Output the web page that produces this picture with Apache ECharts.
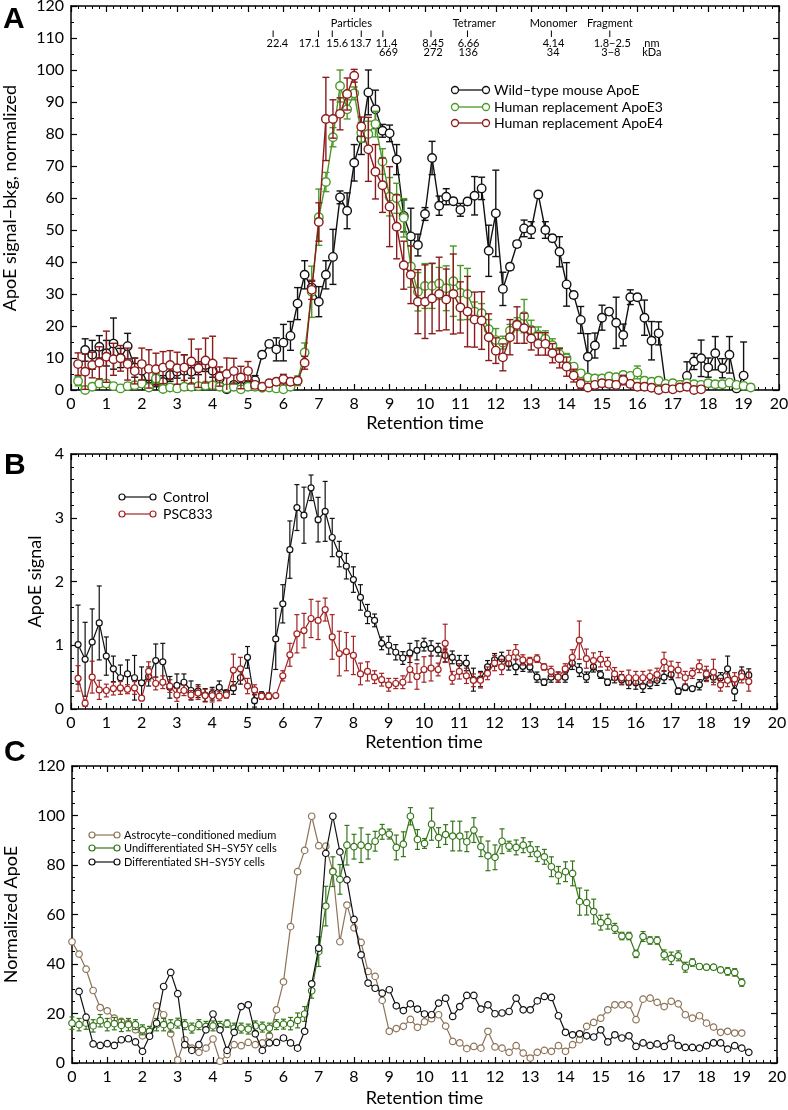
<!DOCTYPE html>
<html>
<head>
<meta charset="utf-8">
<script src="https://cdn.jsdelivr.net/npm/echarts@6/dist/echarts.min.js"></script>
<style>
html,body{margin:0;padding:0;background:#fff;}
#chart{width:788px;height:1110px;}
</style>
</head>
<body>
<div id="chart"></div>
<script>
// ---------- DATA ----------
const times = [
 0,0.2,0.4,0.6,0.8,1,1.2,1.4,1.6,1.8,
 2,2.2,2.4,2.6,2.8,3,3.2,3.4,3.6,3.8,
 4,4.2,4.4,4.6,4.8,5,5.2,5.4,5.6,5.8,
 6,6.2,6.4,6.6,6.8,7,7.2,7.4,7.6,7.8,
 8,8.2,8.4,8.6,8.8,9,9.2,9.4,9.6,9.8,
 10,10.2,10.4,10.6,10.8,11,11.2,11.4,11.6,11.8,
 12,12.2,12.4,12.6,12.8,13,13.2,13.4,13.6,13.8,
 14,14.2,14.4,14.6,14.8,15,15.2,15.4,15.6,15.8,
 16,16.2,16.4,16.6,16.8,17,17.2,17.4,17.6,17.8,
 18,18.2,18.4,18.6,18.8,19,19.2];

const xTicks = [0,1,2,3,4,5,6,7,8,9,10,11,12,13,14,15,16,17,18,19,20];

// Panel A
const aWildType = [
 null,null,12.5,11,13.5,11.5,14.5,10,13.7,7,
 6,1,3,2.5,4.7,5.7,6,5.7,6.8,7.8,
 6,3.6,0.2,1.6,1,1.5,3,11,14.4,12.7,
 14.8,16.9,27,36,32,27.6,36,41.6,60.2,56,
 71,78.6,93,87.7,81,80.2,72,54.4,48,45.3,
 55,72.5,57.6,60.4,59,56.3,58.9,60.7,63,43.5,
 55.2,31.6,38.5,45.6,50.5,50,61.1,50,47.4,43.2,
 33,29.7,21.9,10.4,13.9,22.6,24.5,21,17.2,29,
 29,22.6,15.4,17.7,1,0.5,1.5,4.4,8.9,9.9,
 7,11.5,6.8,11,0.5,4.5,null];
const aWildTypeErr = [
 null,null,3.5,4.5,3.5,4,8,3,4,3,
 3,2,2,2,2,2,5,2,2,2,
 2,2,1,1,1,1,1.5,1,1,3.6,
 5.7,4.5,5,4.4,2,4.7,4.4,8.6,2,5.6,
 5.7,5,7,6,2,2.6,4.7,5,8.8,3.4,
 2,5.2,3,2.5,1,2,1,6,3.5,8,
 13.5,5.2,1,1,2.6,2.6,1,2.6,1,4.7,
 6.8,1,4.2,7.2,3.9,3.9,1,8,3.4,2.3,
 1,5.5,6,3.6,1,1,1,4.4,2.5,5.7,
 3,5.2,3,5.7,1,10.5,null];
const aApoE3 = [
 null,2.8,0,1,2,2,1.2,0.5,1.2,1.5,
 2,0.8,3.6,0.3,0.8,0.5,1,1,1.2,1.4,
 1.5,1,0.5,1,0.2,1,1,0.7,0.8,0.5,
 0.2,1,2.9,11.7,30.7,54,65,79,95,87.7,
 92.7,80.4,80,83.1,71.4,60.4,59.9,53.8,38.6,30.7,
 32.5,32.5,33.3,31.8,34,30.4,30,24.5,24,19,
 15.6,14.8,18.5,20.6,23.1,18.8,17.2,16,14,11.2,
 9.9,7.3,5.2,3.9,3.6,3.6,4.2,4,4.7,4.4,
 5.5,2.9,2.6,2.9,1.9,2.1,1.6,2.1,1.8,1.6,
 2.1,1.8,1.8,2.3,1.6,1.3,0.8];
const aApoE3Err = [
 null,1.5,1,1,1,1,1,1,1,1,
 1,1,1.5,1,1,1,1,1,1,1,
 1,1,1,1,1,1,1,1,1,1,
 1,1,1.5,3,8,8.8,3,3,5,3,
 2,3,4,4,4,6,4.7,6,6.5,6,
 7,7,5,7,11,8.5,8,3,3,3,
 3.6,2,2,2,5.2,3,2.5,2.5,2,2,
 1.5,1,1,1,1,1,1,1,1,1,
 2,1,1,1,1,1,1,1,1,1,
 1,1,1,1,1,1,1];
const aApoE4 = [
 null,8.1,5.7,7.8,8.5,10.4,9.6,9.9,8.1,5.9,
 8.1,6.6,6.5,7,7.8,6.8,7,8.9,6.8,9.2,
 8.3,4.2,5,5.9,3.9,5.9,1.6,1,2.1,2.6,
 3.4,2.6,2.9,8.5,31.3,52.5,84.7,84.7,86.3,92.5,
 98.2,82.3,75.2,68.2,64,57.3,51,39,36,27.6,
 27.6,28.6,30,28.3,30,25.8,24.5,22,21.7,16.5,
 12.3,10.2,16.5,20.3,19.3,16.1,14.4,14.4,11.5,9.9,
 7.3,4.5,1.9,0.8,1.6,2.1,1.9,1.6,3.1,1.9,
 1,1,0.7,0,0.5,0.2,0.8,1,0,0.2,
 null,null,null,null,null,null,null];
const aApoE4Err = [
 null,3.5,5.5,4,5,8,5,4,5,4,
 5,6,5,5,4.5,5,4,7,6,7,
 8.5,3,5,4,3.5,3,1,1,1,1,
 1.5,1,1,2,3,6,13,6,5,5,
 2,3,10,8.5,8.5,12.5,10,7.5,9,10,
 11.5,11,11.5,9.5,12.5,8,11,8.6,9,7.3,
 4,4.2,5.5,5.7,4.7,3.6,3.5,3.5,3,3,
 3,2,1.5,1,1,1,1,1,1.5,1,
 1,1,1,1,1,1,1,1,1,1,
 null,null,null,null,null,null,null];

// Panel B
const bControl = [
 null,1.01,0.78,1.05,1.35,0.83,0.63,0.49,0.55,0.49,
 0.41,0.51,0.76,0.74,0.34,0.37,0.42,0.29,0.28,0.22,
 0.24,0.34,0.25,0.33,0.49,0.81,0.13,0.22,0.2,1.1,
 1.65,2.5,3.16,3.04,3.47,2.97,3.1,2.69,2.43,2.24,
 2.03,1.75,1.49,1.39,1.03,1.0,0.89,0.8,0.88,0.92,
 1.01,0.95,0.93,0.84,0.81,0.72,0.72,0.46,0.47,0.66,
 0.77,0.79,0.71,0.66,0.67,0.66,0.5,0.42,0.5,0.5,
 0.5,0.72,0.61,0.5,0.66,0.54,0.42,0.49,0.46,0.42,
 0.41,0.36,0.4,0.45,0.5,0.54,0.28,0.34,0.32,0.38,
 0.53,0.5,0.49,0.63,0.28,0.56,0.53];
const bControlErr = [
 null,0.62,0.58,0.52,0.58,0.3,0.2,0.2,0.22,0.35,
 0.25,0.15,0.26,0.29,0.17,0.18,0.13,0.15,0.1,0.1,
 0.1,0.1,0.05,0.1,0.1,0.17,0.1,0.05,0.05,0.48,
 0.3,0.45,0.36,0.44,0.2,0.35,0.47,0.3,0.2,0.2,
 0.2,0.2,0.15,0.1,0.1,0.14,0.12,0.1,0.15,0.15,
 0.1,0.12,0.1,0.1,0.1,0.12,0.12,0.18,0.12,0.1,
 0.1,0.1,0.1,0.12,0.08,0.08,0.08,0.05,0.08,0.08,
 0.08,0.1,0.1,0.08,0.08,0.06,0.05,0.08,0.08,0.1,
 0.1,0.1,0.08,0.08,0.1,0.08,0.05,0.05,0.03,0.08,
 0.08,0.08,0.08,0.2,0.15,0.1,0.1];
const bPSC833 = [
 null,0.48,0.09,0.5,0.3,0.29,0.32,0.33,0.31,0.33,
 0.17,0.59,0.4,0.42,0.36,0.22,0.29,0.22,0.25,0.21,
 0.21,0.2,0.22,0.61,0.63,0.36,0.3,0.2,0.2,0.21,
 0.52,0.85,1.18,1.23,1.42,1.39,1.56,1.13,0.87,0.9,
 0.84,0.55,0.59,0.5,0.46,0.38,0.4,0.42,0.62,0.51,
 0.62,0.64,0.62,1.03,0.49,0.59,0.52,0.45,0.45,0.56,
 0.72,0.66,0.8,0.89,0.77,0.75,0.79,0.66,0.59,0.5,
 0.63,0.81,1.08,0.79,0.76,0.78,0.71,0.55,0.49,0.49,
 0.49,0.49,0.51,0.54,0.74,0.63,0.61,0.49,0.56,0.67,
 0.55,0.58,0.38,0.45,0.47,0.51,0.43];
const bPSC833Err = [
 null,0.2,0.05,0.25,0.15,0.1,0.1,0.1,0.07,0.1,
 0.03,0.15,0.1,0.1,0.1,0.1,0.08,0.07,0.1,0.1,
 0.1,0.07,0.05,0.25,0.18,0.12,0.08,0.05,0.05,0.03,
 0.08,0.18,0.3,0.27,0.3,0.3,0.18,0.35,0.35,0.3,
 0.3,0.17,0.15,0.1,0.1,0.1,0.08,0.1,0.2,0.2,
 0.2,0.2,0.1,0.3,0.1,0.12,0.12,0.1,0.12,0.1,
 0.12,0.12,0.12,0.12,0.08,0.06,0.06,0.05,0.08,0.08,
 0.08,0.12,0.3,0.15,0.12,0.12,0.1,0.1,0.1,0.12,
 0.1,0.1,0.1,0.1,0.15,0.12,0.12,0.1,0.08,0.1,
 0.12,0.2,0.1,0.1,0.1,0.1,0.15];

// Panel C
const cAstrocyte = [
 49,44,37.9,29.3,22.4,21.1,18.1,16.8,16.1,13.4,
 11,12.8,23.1,19.5,11.8,1.3,9.4,6,4.3,6,
 9.7,0.7,3.4,7.4,7,8.3,7.4,8.1,11,21.5,
 32.8,55.1,77.3,85.9,99.7,87.8,87.6,77.5,49,63.8,
 54.6,48.7,37,35,25.3,12.8,13.9,14.8,17.6,14.4,
 16.6,17.9,19.5,14.9,8.7,8.1,5.8,6.7,6,12.8,
 6.5,6,4.3,7,4,2,4.3,5.1,4.7,7,
 4.7,7.4,9.4,14.8,16.4,18.1,21.5,23.5,23.5,23.5,
 17.5,25.8,26.2,24.5,22.8,24.9,23.9,19.5,18.1,19.1,
 16.1,14.5,12.4,12.8,12.1,12.1,null];
const cUndiff = [
 16.1,15.5,16.1,15,17.1,15.5,15.9,15.2,15.5,15.5,
 13.4,12.8,15.5,15.5,15,16.1,15.5,14.1,15.5,14.8,
 15,14.8,15.9,14.1,14.1,13.7,15,14.5,14.1,15.5,
 15.7,15.9,17.2,19.8,29.2,45,63.4,77.3,74.2,88,
 87.4,88,87.4,89.6,93.4,92.5,87.1,88.4,99.7,90.3,
 88.7,96.5,91.1,92.3,91.7,91.7,89.4,94.1,87.4,83.7,
 83.1,89.6,87.6,87.1,88,86.4,84.4,83.3,79.3,75.9,
 77.3,76.6,65.2,64.8,61.2,56.7,57.1,54.4,51.3,51.3,
 44.1,51.1,49.5,49.5,43.7,42.3,43.3,38.7,40.6,39,
 38.7,38.7,37.6,37,36.6,32.5,null];
const cUndiffErr = [
 2.5,2.5,2.5,2.5,2.5,2.5,2.5,2.5,2.5,2,
 2,2,2.5,2.5,2.5,2,2,2,2,2,
 2,2,1.5,2,2,2,2,2,2,2,
 2,2.5,3,3,3,6,8,6,6,8,
 5,7,5,4,3,2,5,5,3.5,4,
 2,6.5,4,4,6,6,4,5,4,6,
 5,5,2,3,3,3,3,3,4,3.5,
 4,5,5.5,5,5,3,3,2,1.5,1.5,
 1.5,2,1.5,1.5,2,2.5,2,2,1.5,1,
 1,1,1,1.5,1.5,1.5,null];
const cDiff = [
 null,28.9,18.5,7.7,7.1,7.8,7.1,9.4,9.8,8.5,
 4.7,10.8,16.1,30.9,36.6,28,7.4,5.1,7.4,13.4,
 19.8,13.4,5.1,12.4,22.8,23.5,11.8,5.1,8.1,8.3,
 10.1,8.1,6,12.8,32,46.4,84.7,99.7,85.3,74,
 58,43.7,32.3,30.2,28.2,29.6,23.1,21.2,23.9,21.8,
 19.8,19.5,24.2,26.2,18.8,22.8,27.3,27.3,21.8,23.5,
 19.9,20.2,20.8,26.2,21.5,21.5,25.1,26.9,26.5,19.1,
 12.4,11.4,11.8,11,10.5,13.4,8.5,11.4,10.1,11,
 6.7,8.1,7.1,7.7,6.7,10.1,7,6.3,6.3,6,
 7,8.1,8.1,5.6,7,6,4.3];

// Panel A size-standard annotations (retention times)
const stdTickT   = [5.71, 6.99, 7.38, 8.20, 8.81, 10.17, 11.20, 13.57, 15.22];
const stdNm      = ['22.4','17.1','15.6','13.7','11.4','8.45','6.66','4.14','1.8\u22122.5','nm'];
const stdNmT     = [5.83, 6.74, 7.52, 8.18, 8.91, 10.23, 11.23, 13.63, 15.29, 16.41];
const stdKDa     = ['669','272','136','34','3\u22128','kDa'];
const stdKDaT    = [8.97, 10.23, 11.22, 13.62, 15.25, 16.41];
const stdGroups  = ['Particles','Tetramer','Monomer','Fragment'];
const stdGroupsT = [7.92, 11.39, 13.63, 15.22];

// ---------- CHART ----------
const FONT = 'Lato';
const chart = echarts.init(document.getElementById('chart'), null, {renderer: 'canvas'});

const grids = [
  {left: 71, top: 6, width: 708, height: 384, outerBoundsMode: 'none', containLabel: false},
  {left: 71, top: 454, width: 706, height: 255, outerBoundsMode: 'none', containLabel: false},
  {left: 72, top: 766, width: 705, height: 297, outerBoundsMode: 'none', containLabel: false}
];

function xAxisPair(gi, nameGap) {
  const common = {
    gridIndex: gi, type: 'value', min: 0, max: 20, interval: 1,
    axisLine: {onZero: false, lineStyle: {color: '#000', width: 1.5}},
    axisTick: {inside: true, length: 6, lineStyle: {color: '#000', width: 1.2}},
    minorTick: {show: true, splitNumber: 5, length: 3, lineStyle: {color: '#000', width: 1}},
    splitLine: {show: false}, minorSplitLine: {show: false}
  };
  return [
    Object.assign({}, common, {
      position: 'bottom',
      axisLabel: {color: '#000', fontSize: 16, fontFamily: FONT, margin: 6,
        formatter: v => xTicks.indexOf(v) >= 0 ? String(v) : ''},
      name: 'Retention time', nameLocation: 'middle', nameGap: nameGap,
      nameTextStyle: {color: '#000', fontSize: 18, fontFamily: FONT}
    }),
    Object.assign({}, common, {position: 'top', axisLabel: {show: false}})
  ];
}
function yAxisPair(gi, max, interval, minorSplit, name, nameGap) {
  const common = {
    gridIndex: gi, type: 'value', min: 0, max: max, interval: interval,
    axisLine: {onZero: false, lineStyle: {color: '#000', width: 1.5}},
    axisTick: {inside: true, length: 6, lineStyle: {color: '#000', width: 1.2}},
    minorTick: {show: true, splitNumber: minorSplit, length: 3, lineStyle: {color: '#000', width: 1}},
    splitLine: {show: false}, minorSplitLine: {show: false}
  };
  return [
    Object.assign({}, common, {
      position: 'left',
      axisLabel: {color: '#000', fontSize: 16, fontFamily: FONT, margin: 7},
      name: name, nameLocation: 'middle', nameGap: nameGap,
      nameTextStyle: {color: '#000', fontSize: 18, fontFamily: FONT}
    }),
    Object.assign({}, common, {position: 'right', axisLabel: {show: false}})
  ];
}

function pairs(vals) {
  const out = [];
  times.forEach((t, i) => { if (vals[i] != null) out.push([t, vals[i]]); });
  return out;
}
function lineSeries(ax, vals, color, size, lw, z) {
  return {
    type: 'line', xAxisIndex: ax, yAxisIndex: ax, data: pairs(vals),
    symbol: 'circle', symbolSize: size, showAllSymbol: true, z: z,
    lineStyle: {color: color, width: lw},
    itemStyle: {color: '#fff', borderColor: color, borderWidth: lw},
    emphasis: {disabled: true}, silent: true, animation: false
  };
}
function errSeries(ax, vals, errs, color, capW, lw, z) {
  const data = [];
  times.forEach((t, i) => { if (vals[i] != null && errs[i] != null) data.push([t, vals[i], errs[i]]); });
  return {
    type: 'custom', xAxisIndex: ax, yAxisIndex: ax, z: z, silent: true, animation: false,
    data: data, encode: {x: 0, y: 1},
    renderItem: function (params, api) {
      const x = api.value(0), y = api.value(1), e = api.value(2);
      const lo = Math.max(y - e, 0);
      const top = api.coord([x, y + e]);
      const bot = api.coord([x, lo]);
      const st = {stroke: color, lineWidth: lw};
      const ch = [
        {type: 'line', shape: {x1: top[0], y1: top[1], x2: bot[0], y2: bot[1]}, style: st},
        {type: 'line', shape: {x1: top[0] - capW / 2, y1: top[1], x2: top[0] + capW / 2, y2: top[1]}, style: st}
      ];
      if (y - e > 0) ch.push({type: 'line', shape: {x1: bot[0] - capW / 2, y1: bot[1], x2: bot[0] + capW / 2, y2: bot[1]}, style: st});
      return {type: 'group', children: ch};
    }
  };
}

const COL = {
  black: '#111111',
  aGreen: '#4a9a28', aRed: '#8b1a1a',
  bRed: '#a32222',
  cBrown: '#8d7358', cGreen: '#35761a', cBlack: '#111111'
};

const option = {
  animation: false,
  backgroundColor: '#fff',
  grid: grids,
  xAxis: [].concat(xAxisPair(0, 24), xAxisPair(1, 24), xAxisPair(2, 26)),
  yAxis: [].concat(
    yAxisPair(0, 120, 10, 2, 'ApoE signal\u2212bkg, normalized', 52),
    yAxisPair(1, 4, 1, 5, 'ApoE signal', 21),
    yAxisPair(2, 120, 20, 4, 'Normalized ApoE', 52)
  ),
  series: [
    errSeries(0, aWildType, aWildTypeErr, COL.black, 7, 1.4, 2),
    lineSeries(0, aWildType, COL.black, 8.5, 1.4, 3),
    errSeries(0, aApoE3, aApoE3Err, COL.aGreen, 7, 1.4, 4),
    lineSeries(0, aApoE3, COL.aGreen, 8.5, 1.4, 5),
    errSeries(0, aApoE4, aApoE4Err, COL.aRed, 7, 1.4, 6),
    lineSeries(0, aApoE4, COL.aRed, 8.5, 1.4, 7),

    errSeries(2, bControl, bControlErr, COL.black, 5, 1.2, 2),
    lineSeries(2, bControl, COL.black, 6, 1.2, 3),
    errSeries(2, bPSC833, bPSC833Err, COL.bRed, 5, 1.2, 4),
    lineSeries(2, bPSC833, COL.bRed, 6, 1.2, 5),

    lineSeries(4, cAstrocyte, COL.cBrown, 6.5, 1.2, 3),
    errSeries(4, cUndiff, cUndiffErr, COL.cGreen, 5, 1.2, 4),
    lineSeries(4, cUndiff, COL.cGreen, 6.5, 1.2, 5),
    lineSeries(4, cDiff, COL.cBlack, 6.5, 1.2, 6)
  ]
};
chart.setOption(option);

// ---------- GRAPHICS: panel letters, legends, annotations ----------
const g = [];
function letter(txt, x, y) {
  g.push({type: 'text', left: x, top: y, z: 100,
    style: {text: txt, fontSize: 30, fontWeight: 'bold', fontFamily: 'Liberation Sans', fill: '#000'}});
}
letter('A', 3, 5);
letter('B', 4, 451);
letter('C', 4, 738);

function legendEntry(x1, x2, y, r, color, lw, tx, text, fs) {
  g.push({type: 'line', z: 100, shape: {x1: x1, y1: y, x2: x2, y2: y}, style: {stroke: color, lineWidth: lw}});
  g.push({type: 'circle', z: 101, shape: {cx: x1, cy: y, r: r}, style: {fill: '#fff', stroke: color, lineWidth: lw}});
  g.push({type: 'circle', z: 101, shape: {cx: x2, cy: y, r: r}, style: {fill: '#fff', stroke: color, lineWidth: lw}});
  g.push({type: 'text', z: 101, x: tx, y: y,
    style: {text: text, fontSize: fs, fontFamily: FONT, fill: '#000', textVerticalAlign: 'middle', verticalAlign: 'middle', align: 'left'}});
}
legendEntry(455, 486, 90, 3.5, COL.black, 1.3, 494, 'Wild\u2212type mouse ApoE', 14);
legendEntry(455, 486, 107, 3.5, COL.aGreen, 1.3, 494, 'Human replacement ApoE3', 14);
legendEntry(455, 486, 123, 3.5, COL.aRed, 1.3, 494, 'Human replacement ApoE4', 14);

legendEntry(122, 153, 497, 3, COL.black, 1.2, 163, 'Control', 14);
legendEntry(122, 153, 514, 3, COL.bRed, 1.2, 163, 'PSC833', 14);

legendEntry(92, 117, 835, 3, COL.cBrown, 1.2, 124, 'Astrocyte\u2212conditioned medium', 11);
legendEntry(92, 117, 848, 3, COL.cGreen, 1.2, 124, 'Undifferentiated SH\u2212SY5Y cells', 11);
legendEntry(92, 117, 862, 3, COL.cBlack, 1.2, 124, 'Differentiated SH\u2212SY5Y cells', 11);

function px(t) { return chart.convertToPixel({xAxisIndex: 0}, t); }
function annText(x, y, text) {
  g.push({type: 'text', z: 100, x: x, y: y,
    style: {text: text, fontSize: 11, fontFamily: FONT, fill: '#000', align: 'center', verticalAlign: 'middle', textAlign: 'center', textVerticalAlign: 'middle'}});
}
stdTickT.forEach(t => {
  const x = px(t);
  g.push({type: 'line', z: 100, shape: {x1: x, y1: 30.5, x2: x, y2: 37}, style: {stroke: '#000', lineWidth: 1}});
});
stdNm.forEach((s, i) => annText(px(stdNmT[i]), 43, s));
stdKDa.forEach((s, i) => annText(px(stdKDaT[i]), 52, s));
stdGroups.forEach((s, i) => annText(px(stdGroupsT[i]), 23, s));

chart.setOption({graphic: g});
</script>
</body>
</html>
